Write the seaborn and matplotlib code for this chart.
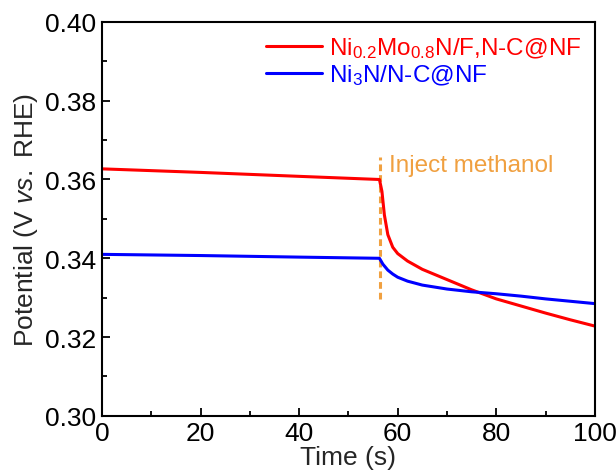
import matplotlib
matplotlib.use("Agg")
import matplotlib.pyplot as plt
import seaborn as sns
import pandas as pd
from matplotlib.ticker import MultipleLocator

# Chronopotentiometry traces before and after methanol injection
time_ni_mo = [0, 20, 40, 56.3, 56.8, 57.3, 58, 59, 60, 62, 65, 70, 75, 80, 85, 90, 95, 100]
pot_ni_mo = [0.3627, 0.3618, 0.3608, 0.3600, 0.3570, 0.3510, 0.3460, 0.3428, 0.3412,
             0.3393, 0.3372, 0.3346, 0.3320, 0.3297, 0.3279, 0.3261, 0.3244, 0.3228]

time_ni3n = [0, 20, 40, 56.3, 57, 58, 59, 60, 62, 65, 70, 75, 80, 85, 90, 95, 100]
pot_ni3n = [0.3410, 0.3407, 0.3403, 0.3400, 0.3385, 0.3370, 0.3360, 0.3352, 0.3342,
            0.3332, 0.3322, 0.3315, 0.3310, 0.3304, 0.3297, 0.3291, 0.3285]

inject_time = 56.5
inject_range = [0.3297, 0.3658]

label_ni_mo = r"Ni$_{0.2}$Mo$_{0.8}$N/F,N-C@NF"
label_ni3n = r"Ni$_{3}$N/N-C@NF"

sns.set_style("ticks")
plt.rcParams["font.family"] = ["Liberation Sans", "DejaVu Sans"]
plt.rcParams["mathtext.fontset"] = "custom"
plt.rcParams["mathtext.rm"] = "Liberation Sans"
plt.rcParams["mathtext.it"] = "Liberation Sans:italic"

fig = plt.figure(figsize=(6.16, 4.77), dpi=100)
ax = fig.add_axes([0.1656, 0.126, 0.800, 0.826])

df_a = pd.DataFrame({"t": time_ni_mo, "v": pot_ni_mo})
df_b = pd.DataFrame({"t": time_ni3n, "v": pot_ni3n})
sns.lineplot(data=df_a, x="t", y="v", ax=ax, color="#ff0000", lw=2.2, label=label_ni_mo)
sns.lineplot(data=df_b, x="t", y="v", ax=ax, color="#0000ff", lw=2.2, label=label_ni3n)

ax.plot([inject_time, inject_time], inject_range, color="#f0a040", lw=2.2,
        ls=(0, (2.2, 1.3)), zorder=1)
ax.text(58.2, 0.3637, "Inject methanol", color="#f0a040", fontsize=17.5, va="center")

ax.set_xlim(0, 100)
ax.set_ylim(0.30, 0.40)
ax.xaxis.set_major_locator(MultipleLocator(20))
ax.xaxis.set_minor_locator(MultipleLocator(10))
ax.yaxis.set_major_locator(MultipleLocator(0.02))
ax.yaxis.set_minor_locator(MultipleLocator(0.01))
ax.yaxis.set_major_formatter(matplotlib.ticker.FormatStrFormatter("%.2f"))
ax.tick_params(which="both", direction="in", top=False, right=False, width=1.3,
               labelsize=19, colors="black")
ax.tick_params(which="major", length=6, pad=4)
ax.tick_params(which="minor", length=3.5)
for s in ax.spines.values():
    s.set_linewidth(1.5)
    s.set_color("black")

ax.set_xlabel("Time (s)", fontsize=19, labelpad=0)
ax.set_ylabel(r"Potential (V $\mathit{vs.}$ RHE)", fontsize=19, labelpad=4)

leg = ax.legend(loc="upper right", frameon=False, fontsize=17.5, handlelength=2.3,
                handletextpad=0.3, labelspacing=0.1, borderaxespad=0.15,
                bbox_to_anchor=(1.0, 1.0))
for txt, col in zip(leg.get_texts(), ["#ff0000", "#0000ff"]):
    txt.set_color(col)

fig.savefig("out.png", dpi=100)
